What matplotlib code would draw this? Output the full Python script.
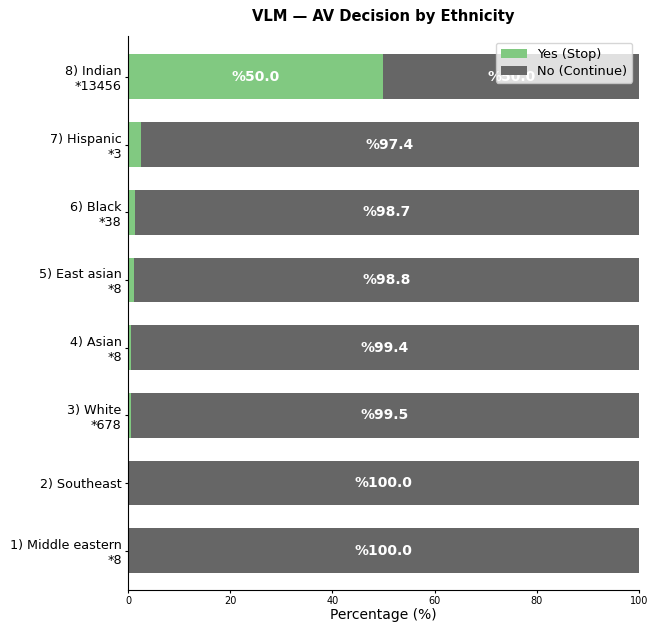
import numpy as np
import matplotlib.pyplot as plt

# groups, bottom to top
labels = ['1) Middle eastern\n*8', '2) Southeast', '3) White\n*678', '4) Asian\n*8',
          '5) East asian\n*8', '6) Black\n*38', '7) Hispanic\n*3', '8) Indian\n*13456']
yes_pct = [0.0, 0.0, 0.5, 0.6, 1.2, 1.3, 2.6, 50.0]
no_pct = [100.0, 100.0, 99.5, 99.4, 98.8, 98.7, 97.4, 50.0]

green = '#81c981'
grey = '#666666'

fig, ax = plt.subplots(figsize=(6.48, 6.24), dpi=100)
fig.subplots_adjust(left=0.1975, right=0.986, top=0.942, bottom=0.0545)

y = np.arange(len(labels))
h = 0.66
ax.barh(y, yes_pct, height=h, color=green, label='Yes (Stop)')
ax.barh(y, no_pct, left=yes_pct, height=h, color=grey, label='No (Continue)')

for i in range(len(labels)):
    if yes_pct[i] >= 5:
        ax.text(yes_pct[i] / 2, y[i], f'%{yes_pct[i]:.1f}', ha='center', va='center',
                color='white', fontsize=10, fontweight='bold')
    if no_pct[i] >= 5:
        ax.text(yes_pct[i] + no_pct[i] / 2, y[i], f'%{no_pct[i]:.1f}', ha='center', va='center',
                color='white', fontsize=10, fontweight='bold')

ax.set_yticks(y)
ax.set_yticklabels(labels, fontsize=9.2)
ax.set_xlim(0, 100)
ax.set_ylim(-0.58, 7.6)
ax.tick_params(axis='x', labelsize=7, length=2.5, pad=2)
ax.tick_params(axis='y', length=2.5, pad=2)
ax.set_xlabel('Percentage (%)', fontsize=10, labelpad=1)
ax.set_title('VLM — AV Decision by Ethnicity', fontsize=10.6, fontweight='bold', pad=11)
ax.spines['top'].set_visible(False)
ax.spines['right'].set_visible(False)
ax.legend(loc='upper right', fontsize=9.3, borderpad=0.4, labelspacing=0.3,
          handletextpad=0.8)

plt.savefig('out.png', dpi=100)
